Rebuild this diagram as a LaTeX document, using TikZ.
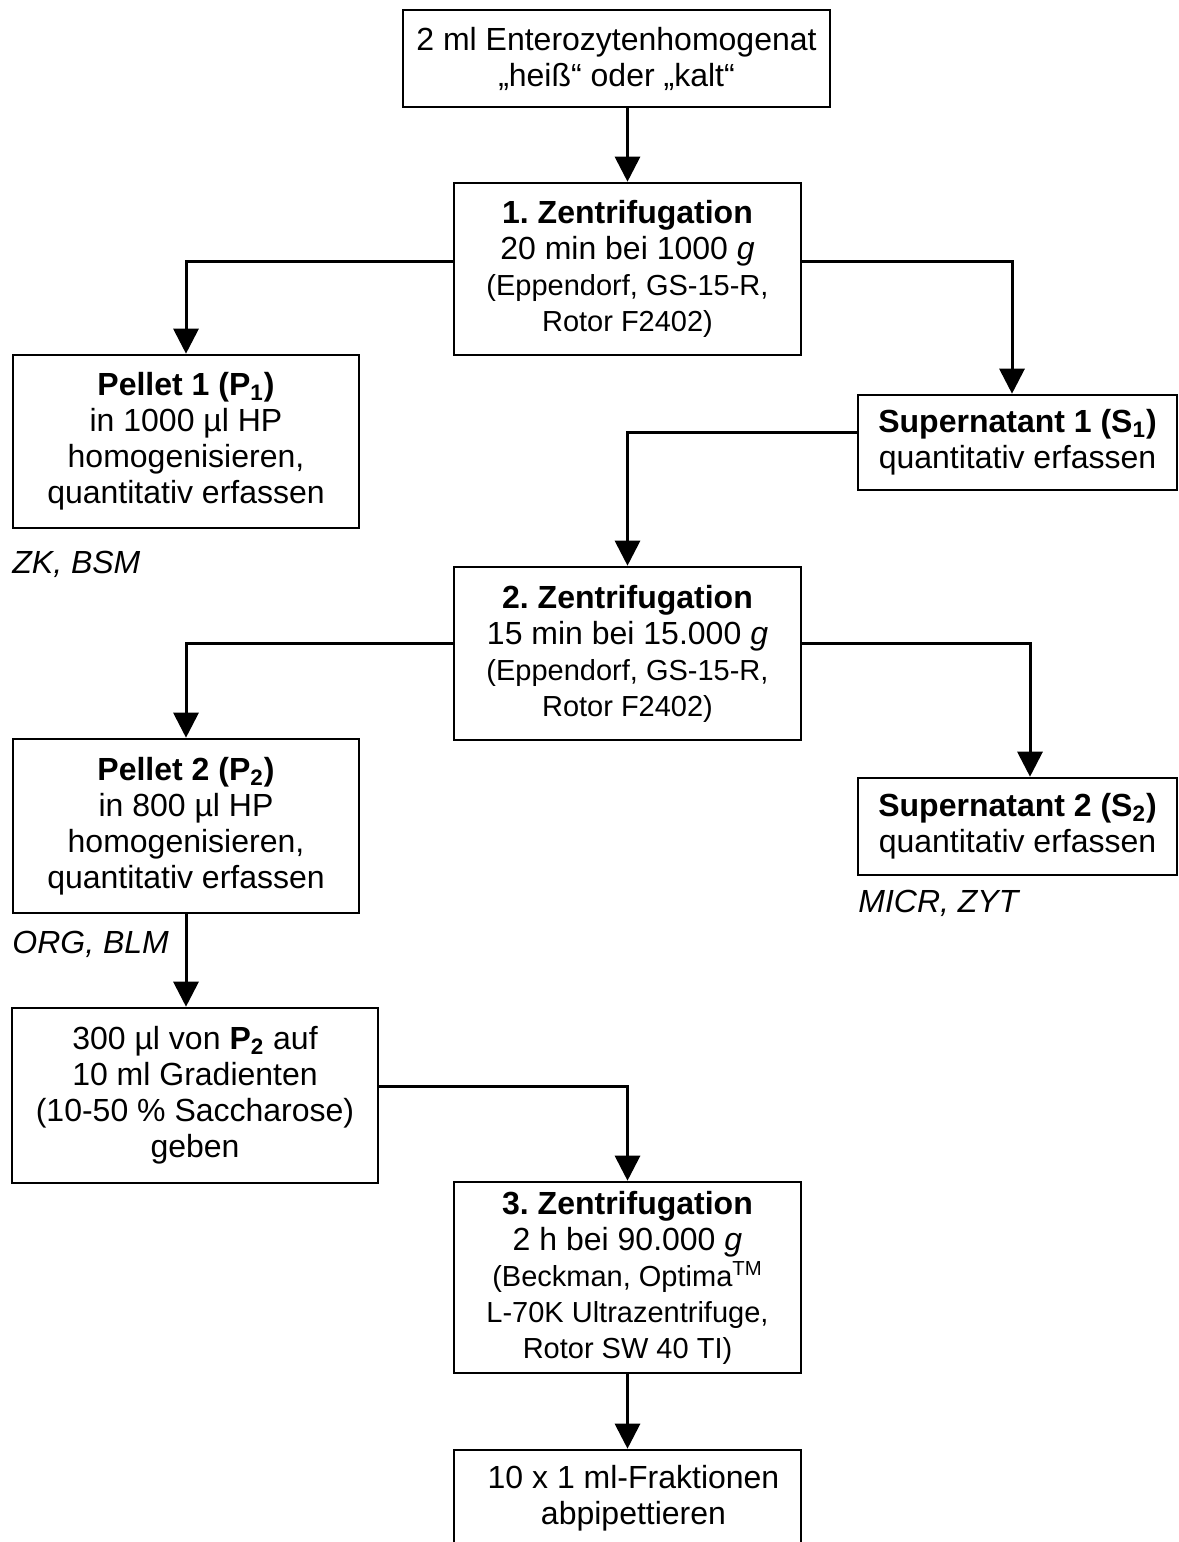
\documentclass[tikz,border=0pt]{standalone}
\usepackage{fontspec}
\setmainfont{Liberation Sans}
\usetikzlibrary{arrows.meta}
\frenchspacing
\newcommand\smalltxt{\fontsize{14.5}{17.5}\selectfont}
\tikzset{
  box/.style={draw=black, line width=1.3pt, inner sep=0pt, align=center,
              font=\fontsize{16}{18}\selectfont},
  txt/.style={inner sep=0pt, align=center, font=\fontsize{16}{18}\selectfont},
  conn/.style={line width=1.5pt, -{Triangle[width=12.5pt,length=12.5pt]}},
  lbl/.style={inner sep=0pt, anchor=base west, font=\fontsize{16}{18}\selectfont\itshape},
}
\begin{document}
\begin{tikzpicture}[x=0.5pt,y=-0.5pt]
\useasboundingbox[fill=white] (0,0) rectangle (1178,1542);

% boxes
\node[box, minimum width=213.5pt, minimum height=48.5pt] (B0) at (616.5,58.5)
  {2 ml Enterozytenhomogenat\\„heiß“ oder „kalt“};
\node[box, minimum width=173.5pt, minimum height=86pt] (B1) at (627.5,269)
  {\textbf{1. Zentrifugation}\\20 min bei 1000 \textit{g}\\{\smalltxt (Eppendorf, GS-15-R,}\\{\smalltxt Rotor F2402)}};
\node[box, minimum width=173pt, minimum height=86.5pt] (P1) at (186,441.5)
  {\textbf{Pellet 1 (P\textsubscript{1})}\\in 1000 µl HP\\homogenisieren,\\quantitativ erfassen};
\node[box, minimum width=159.5pt, minimum height=47.5pt] (S1) at (1017.5,442.5)
  {\textbf{Supernatant 1 (S\textsubscript{1})}\\quantitativ erfassen};
\node[box, minimum width=173.5pt, minimum height=86.5pt] (B2) at (627.5,653.5)
  {\textbf{2. Zentrifugation}\\15 min bei 15.000 \textit{g}\\{\smalltxt (Eppendorf, GS-15-R,}\\{\smalltxt Rotor F2402)}};
\node[box, minimum width=173pt, minimum height=87pt] (P2) at (186,826)
  {\textbf{Pellet 2 (P\textsubscript{2})}\\in 800 µl HP\\homogenisieren,\\quantitativ erfassen};
\node[box, minimum width=159.5pt, minimum height=48.5pt] (S2) at (1017.5,826.5)
  {\textbf{Supernatant 2 (S\textsubscript{2})}\\quantitativ erfassen};
\node[box, minimum width=183pt, minimum height=87.5pt] (G) at (195,1095.5)
  {300 µl von \textbf{P\textsubscript{2}} auf\\10 ml Gradienten\\(10-50 \% Saccharose)\\geben};
\node[box, minimum width=173.5pt, minimum height=95.5pt] (B3) at (627.5,1277.5)
  {\textbf{3. Zentrifugation}\\2 h bei 90.000 \textit{g}\\{\smalltxt (Beckman, Optima\textsuperscript{TM}}\\{\smalltxt L-70K Ultrazentrifuge,}\\{\smalltxt Rotor SW 40 TI)}};
\node[box, minimum width=173.5pt, minimum height=48pt] (B4) at (627.5,1498) {};
\node[txt] (B4t) at ([xshift=3pt]B4.center) {10 x 1 ml-Fraktionen\\abpipettieren};

% labels
\node[lbl] (L1) at (12,573) {ZK, BSM};
\node[lbl] (L2) at (12,953) {ORG, BLM};
\node[lbl] (L3) at (858,912) {MICR, ZYT};

% connectors
\draw[conn] (B1.north |- B0.south) -- (B1.north);
\draw[conn] ([yshift=4pt]B1.west) -| (P1.north);
\draw[conn] ([yshift=4pt]B1.east) -| ([xshift=-2.75pt]S1.north);
\draw[conn] ([yshift=5pt]S1.west) -| (B2.north);
\draw[conn] ([yshift=5pt]B2.west) -| (P2.north);
\draw[conn] ([yshift=5pt]B2.east) -| ([xshift=6.25pt]S2.north);
\draw[conn] (P2.south) -- (P2.south |- G.north);
\draw[conn] ([yshift=4.75pt]G.east) -| (B3.north);
\draw[conn] (B3.south) -- (B4.north);
\end{tikzpicture}
\end{document}
